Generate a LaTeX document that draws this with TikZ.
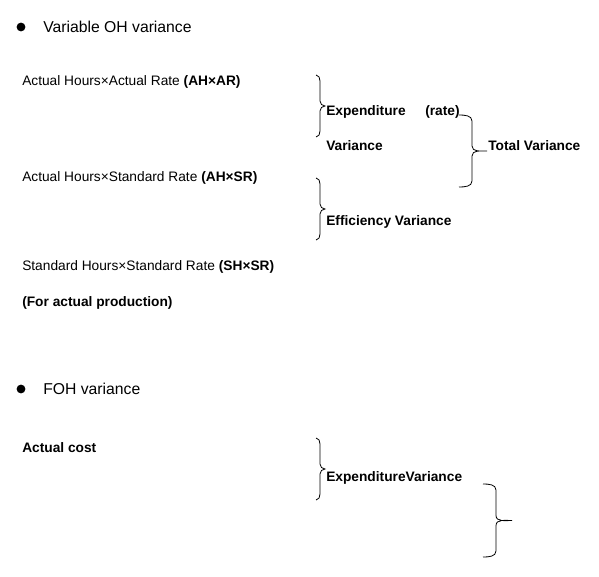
\documentclass[tikz,border=0pt]{standalone}
\usepackage{fontspec}
\setmainfont{Liberation Sans}

\tikzset{
  txt/.style={anchor=west,inner sep=0pt,font=\fontsize{10.3}{12}\selectfont},
  bold/.style={txt,font=\fontsize{10.3}{12}\selectfont\bfseries},
  head/.style={anchor=west,inner sep=0pt,font=\fontsize{11.8}{14}\selectfont},
  curly/.style={line width=0.6pt}
}
% #1 x of ends, #2 top y, #3 bottom y, #4 body offset, #5 tip offset
\newcommand\curlyb[5]{%
\draw[curly] (#1,#2) to[out=0,in=90] ({#1+#4},{#2+6}) -- ({#1+#4},{(#2+#3)/2-5})
  to[out=-90,in=180] ({#1+#5},{(#2+#3)/2})
  to[out=180,in=90] ({#1+#4},{(#2+#3)/2+5}) -- ({#1+#4},{#3-6})
  to[out=-90,in=0] (#1,#3);}

\begin{document}
\begin{tikzpicture}[x=0.75pt,y=-0.75pt]
\useasboundingbox (0,0) rectangle (599,577);
% Variable OH variance
\fill (21,27) circle (4.4);
\node[head] (h1) at (43,27) {Variable OH variance};
\node[txt] (ahar) at (22,82) {Actual Hours×Actual Rate \textbf{(AH×AR)}};
\node[txt] (ahsr) at (22,178) {Actual Hours×Standard Rate \textbf{(AH×SR)}};
\node[txt] (shsr) at (22,267) {Standard Hours×Standard Rate \textbf{(SH×SR)}};
\node[bold] (prod) at (22,303) {(For actual production)};
\node[bold] (exp) at (326,112) {Expenditure};
\node[bold] (rate) at (425,112) {(rate)};
\node[bold] (var) at (326,146) {Variance};
\node[bold] (tot) at (488,146) {Total Variance};
\node[bold] (eff) at (326,222) {Efficiency Variance};
\curlyb{316}{75}{137}{4}{9}
\curlyb{459}{115}{187}{13}{28}
\curlyb{316}{178}{240}{4}{9}
% FOH variance
\fill (21,389) circle (4.4);
\node[head] (h2) at (43,389) {FOH variance};
\node[bold] (act) at (22,448) {Actual cost};
\node[bold] (expv) at (326,478) {ExpenditureVariance};
\curlyb{316}{438}{500}{4}{9}
\curlyb{483}{484}{557}{13}{29}
\end{tikzpicture}
\end{document}
